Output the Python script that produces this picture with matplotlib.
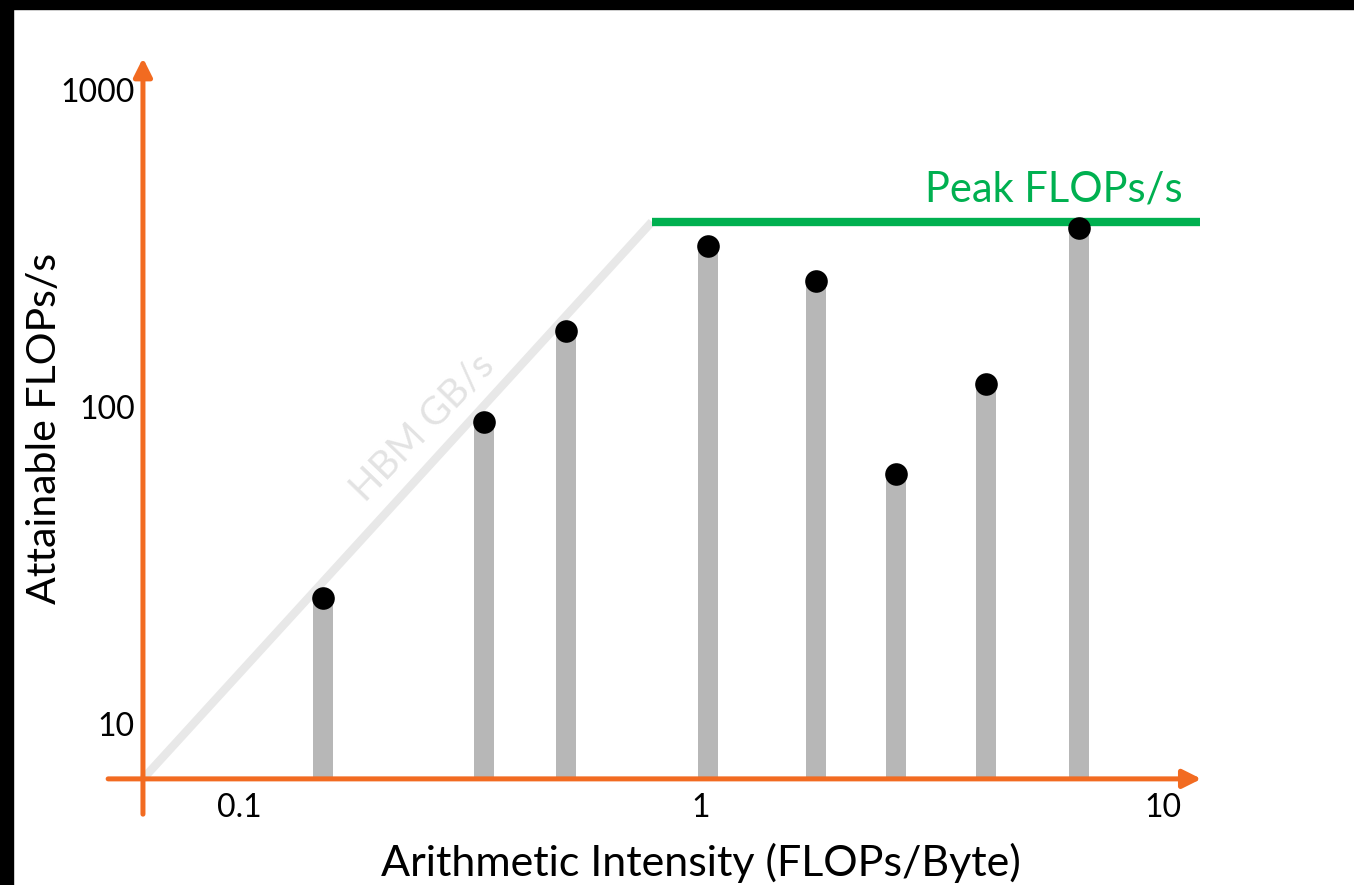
import numpy as np
import matplotlib.pyplot as plt
from matplotlib.patches import Rectangle

plt.rcParams['font.family'] = ['Lato', 'DejaVu Sans']

# measured kernels: arithmetic intensity vs attainable performance
intensity = [0.152, 0.339, 0.510, 1.035, 1.77, 2.64, 4.14, 6.58]
flops = [25.5, 91.7, 177, 329, 255, 62.8, 121, 375]

# roofline pieces
hbm_x = [0.062, 0.783]
hbm_y = [6.86, 392]
peak_x = [0.783, 12.0]
peak_y = [392, 392]

x_ticks = [0.1, 1, 10]
x_tick_labels = ['0.1', '1', '10']
y_ticks = [10, 100, 1000]
y_tick_labels = ['10', '100', '1000']

orange = '#f26b21'
green = '#00b050'
bar_gray = '#b7b7b7'
line_gray = '#e8e8e8'

fig = plt.figure(figsize=(13.54, 8.85), dpi=100)
ax = fig.add_axes([0, 0, 1, 1])
ax.set_xscale('log')
ax.set_yscale('log')
ax.set_xlim(10 ** -1.517, 10 ** 1.4134)
ax.set_ylim(10 ** 0.5016, 10 ** 3.293)
ax.axis('off')

x0 = 0.062   # where the axes cross
y0 = 6.86

# HBM bandwidth slope and compute ceiling
ax.plot(hbm_x, hbm_y, color=line_gray, lw=6, solid_capstyle='butt', zorder=1)
ax.plot(peak_x, peak_y, color=green, lw=6, solid_capstyle='butt', zorder=2)

# stems + dots
ax.vlines(intensity, y0, flops, color=bar_gray, lw=14.4, zorder=3)
ax.scatter(intensity, flops, s=265, color='black', zorder=5, linewidths=0)

# axes with arrows
ax.annotate('', xy=(x0, 10 ** 3.11), xytext=(x0, 10 ** 0.725),
            arrowprops=dict(arrowstyle='-|>,head_length=1.1,head_width=0.55',
                            color=orange, lw=3.6, shrinkA=0, shrinkB=0), zorder=6)
ax.annotate('', xy=(10 ** 1.083, y0), xytext=(10 ** -1.283, y0),
            arrowprops=dict(arrowstyle='-|>,head_length=1.1,head_width=0.55',
                            color=orange, lw=3.6, shrinkA=0, shrinkB=0), zorder=4)

# tick labels
for xv, lab in zip(x_ticks, x_tick_labels):
    ax.text(xv, 10 ** 0.744, lab, ha='center', va='center', fontsize=23)
for yv, lab in zip(y_ticks, y_tick_labels):
    ax.text(10 ** -1.225, yv, lab, ha='right', va='center', fontsize=23)

ax.text(1.0, 10 ** 0.571, 'Arithmetic Intensity (FLOPs/Byte)', ha='center', va='center', fontsize=31)
ax.text(10 ** -1.42, 10 ** 1.943, 'Attainable FLOPs/s', ha='center', va='center', rotation=90, fontsize=29.5)

ax.text(10 ** 0.764, 10 ** 2.694, 'Peak FLOPs/s', ha='center', va='center', fontsize=30, color=green)
ax.text(10 ** -0.602, 10 ** 1.946, 'HBM GB/s', ha='center', va='center', fontsize=28,
        color='#e3e3e3', rotation=46)

# black frame bits on top and left
fig.patches.append(Rectangle((0, 1 - 9 / 885), 1, 9 / 885, transform=fig.transFigure,
                             color='black', zorder=10))
fig.patches.append(Rectangle((0, 0), 13 / 1354, 1, transform=fig.transFigure,
                             color='black', zorder=10))

fig.savefig('out.png', dpi=100)
